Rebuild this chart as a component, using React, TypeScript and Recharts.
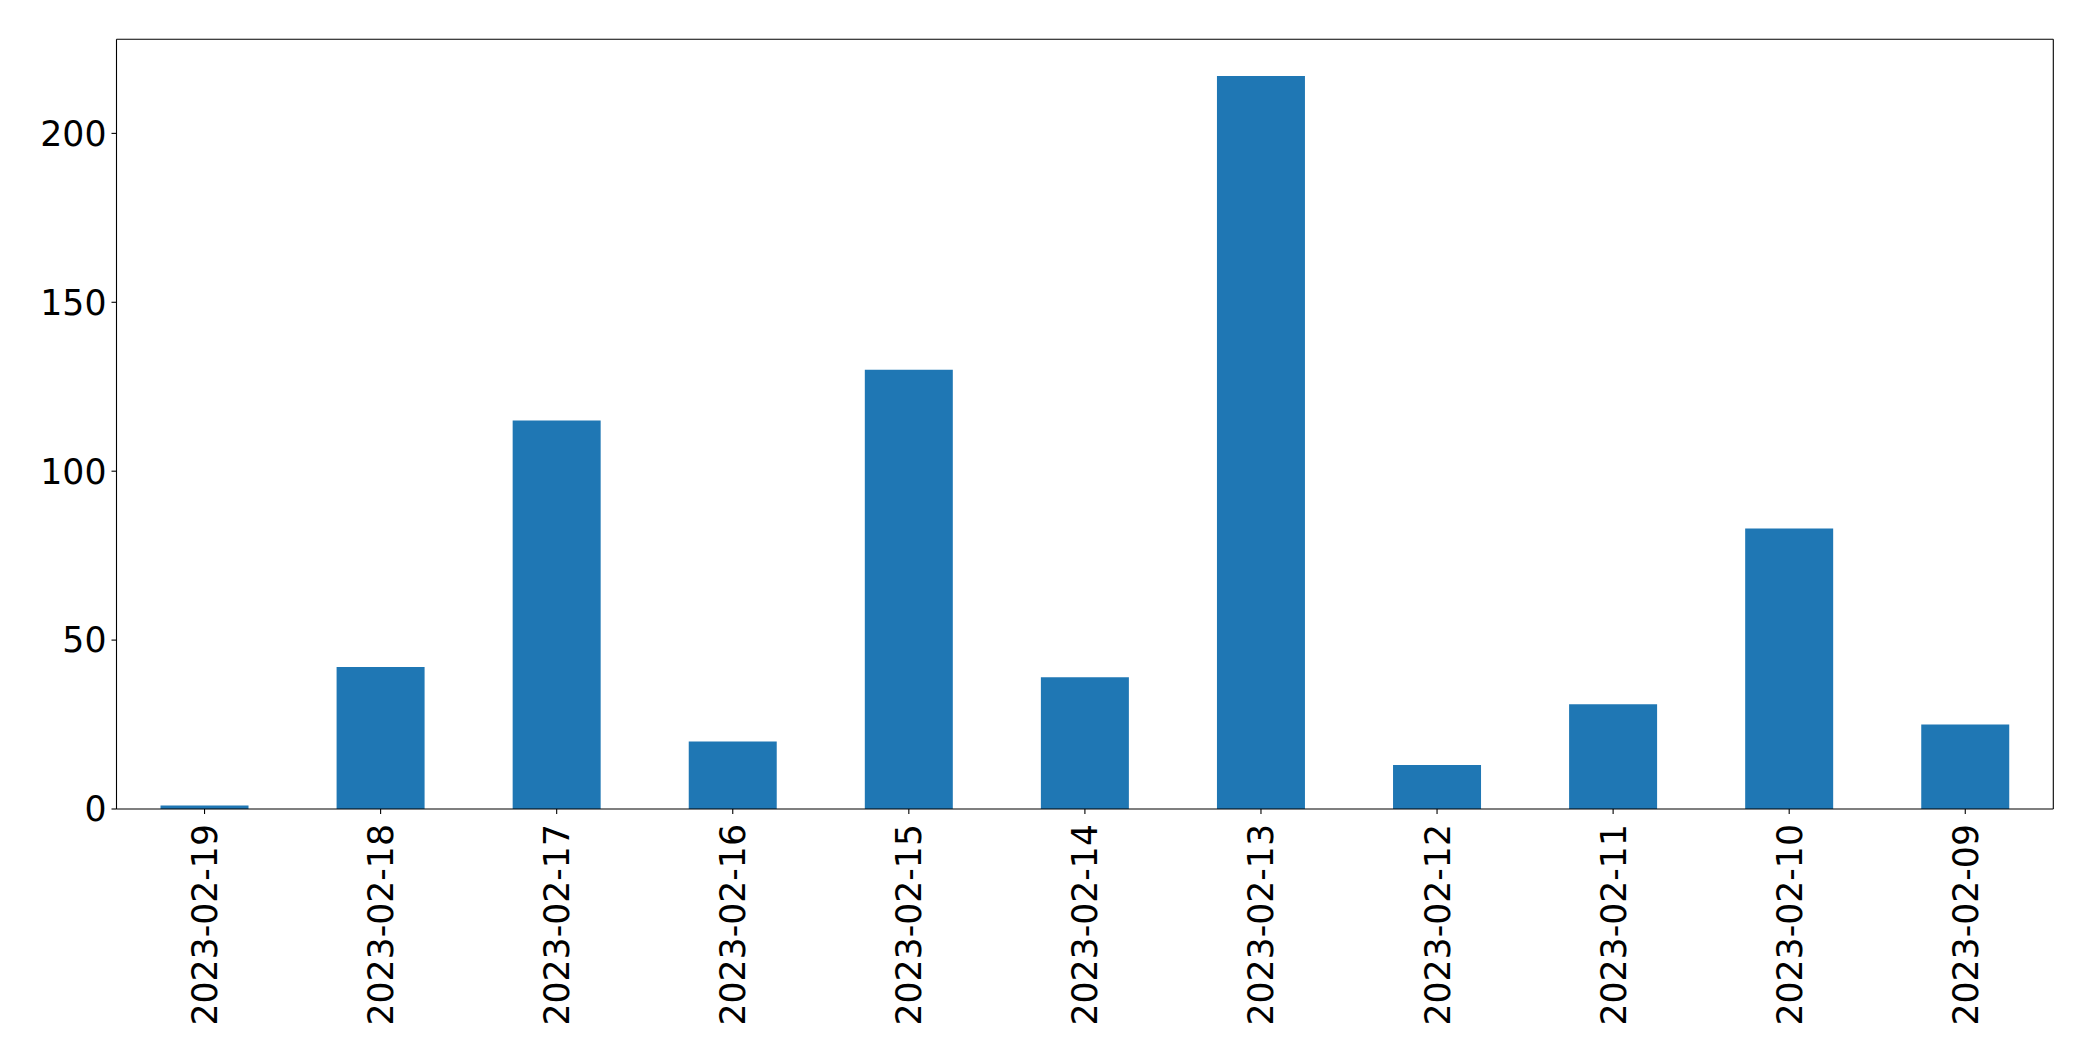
import React from "react";
import { Bar, BarChart, CartesianGrid, XAxis, YAxis } from "recharts";

// ── data ──────────────────────────────────────────────
const dates = [
	"2023-02-19",
	"2023-02-18",
	"2023-02-17",
	"2023-02-16",
	"2023-02-15",
	"2023-02-14",
	"2023-02-13",
	"2023-02-12",
	"2023-02-11",
	"2023-02-10",
	"2023-02-09",
];
const counts = [1, 42, 115, 20, 130, 39, 217, 13, 31, 83, 25];
const yTicks = [0, 50, 100, 150, 200];

const BAR_COLOR = "#1f77b4";
const FONT = "'DejaVu Sans', sans-serif";
const FONT_SIZE = 34.7;

const chartData = dates.map((d, i) => ({ date: d, count: counts[i] }));
const yMax = Math.max(...counts) * 1.05;

// rotated x tick label (matplotlib rotation=90 style)
function DateTick(props: any) {
	const { x, y, payload } = props;
	return (
		<text
			transform={`translate(${x}, ${y}) rotate(-90)`}
			textAnchor="end"
			dy="0.36em"
			fontFamily={FONT}
			fontSize={FONT_SIZE}
			fill="#000"
		>
			{payload.value}
		</text>
	);
}

export default function App() {
	return (
		<div style={{ position: "absolute", left: 0, top: 0, background: "#fff" }}>
			<BarChart
				width={2093}
				height={1061}
				data={chartData}
				margin={{ top: 39.3, right: 39.7, left: 0, bottom: 0 }}
				barCategoryGap="25%"
			>
				{/* top + right spines of the axes box */}
				<CartesianGrid
					stroke="#000"
					strokeWidth={1.1}
					horizontalCoordinatesGenerator={({ offset }: any) => [offset.top]}
					verticalCoordinatesGenerator={({ offset }: any) => [offset.left + offset.width]}
				/>
				<XAxis
					dataKey="date"
					height={252}
					interval={0}
					tick={<DateTick />}
					tickSize={5}
					tickMargin={10}
					tickLine={{ stroke: "#000", strokeWidth: 1.1 }}
					axisLine={{ stroke: "#000", strokeWidth: 1.1 }}
				/>
				<YAxis
					type="number"
					domain={[0, yMax]}
					ticks={yTicks}
					width={116.5}
					tickSize={5}
					tickMargin={5}
					tick={{ fontFamily: FONT, fontSize: FONT_SIZE, fill: "#000" }}
					tickLine={{ stroke: "#000", strokeWidth: 1.1 }}
					axisLine={{ stroke: "#000", strokeWidth: 1.1 }}
				/>
				<Bar dataKey="count" fill={BAR_COLOR} isAnimationActive={false} />
			</BarChart>
		</div>
	);
}
